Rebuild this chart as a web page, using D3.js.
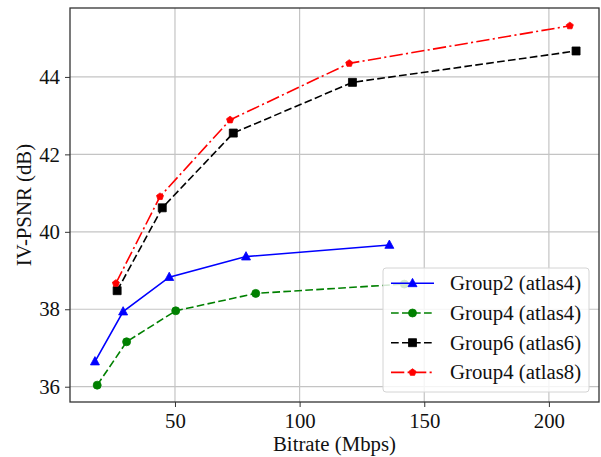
<!DOCTYPE html>
<html>
<head>
<meta charset="utf-8">
<script src="https://cdn.jsdelivr.net/npm/d3@7"></script>
<style>
    body { margin: 0; background: #fff; }
    svg text { font-family: "Times New Roman", "Liberation Serif", "DejaVu Serif", serif; fill: #111; }
</style>
</head>
<body>
<div id="chart"></div>
<script>
'use strict';

// values
const series_names = ['Group2 (atlas4)', 'Group4 (atlas4)', 'Group6 (atlas6)', 'Group4 (atlas8)'];
const g2a4_rate = [17.9, 29.2, 47.7, 78.5, 136.0];
const g2a4_psnr = [36.65, 37.94, 38.83, 39.36, 39.66];
const g4a4_rate = [18.8, 30.6, 50.3, 82.4, 142.0];
const g4a4_psnr = [36.04, 37.16, 37.96, 38.41, 38.65];
const g6a6_rate = [26.8, 44.9, 73.4, 121.2, 210.9];
const g6a6_psnr = [38.48, 40.62, 42.55, 43.86, 44.67];
const g4a8_rate = [26.3, 44.0, 72.1, 119.9, 208.4];
const g4a8_psnr = [38.67, 40.91, 42.89, 44.35, 45.32];
const x_ticks = [50, 100, 150, 200];
const y_ticks = [36, 38, 40, 42, 44];

const FONT = '"Times New Roman", "Liberation Serif", "DejaVu Serif", serif';

function zip(xs, ys) {
    return xs.map((x, i) => ({ x: x, y: ys[i] }));
}

let styles = [
    { color: '#0000ff', dash: null, marker: 'triangle', size: 9 },
    { color: '#008000', dash: '7.7,3.3', marker: 'circle', size: 8 },
    { color: '#000000', dash: '7.7,3.3', marker: 'square', size: 8 },
    { color: '#ff0000', dash: '13.3,3.3,2.1,3.3', marker: 'pentagon', size: 7 }
];

let datasets = [
    zip(g2a4_rate, g2a4_psnr),
    zip(g4a4_rate, g4a4_psnr),
    zip(g6a6_rate, g6a6_psnr),
    zip(g4a8_rate, g4a8_psnr)
];

function marker_path(kind, size) {
    let r = size / 2;
    if (kind === 'triangle') {
        return `M0,${-r * 1.1}L${r},${r * 0.75}L${-r},${r * 0.75}Z`;
    }
    if (kind === 'square') {
        return `M${-r},${-r}h${size}v${size}h${-size}Z`;
    }
    if (kind === 'pentagon') {
        let pts = d3.range(5).map(i => {
            let a = -Math.PI / 2 + i * 2 * Math.PI / 5;
            return [r * 1.05 * Math.cos(a), r * 1.05 * Math.sin(a)];
        });
        return 'M' + pts.join('L') + 'Z';
    }
    return d3.symbol().type(d3.symbolCircle).size(Math.PI * r * r)();
}

function draw_markers(g, data, style, xScale, yScale) {
    g.selectAll('.mk')
        .data(data)
        .enter()
        .append('path')
        .attr('class', 'mk')
        .attr('d', marker_path(style.marker, style.size))
        .attr('transform', (d) => `translate(${xScale(d.x)},${yScale(d.y)})`)
        .attr('fill', style.color)
        .attr('stroke', style.color)
        .attr('stroke-width', 0.8);
}

function linechart(id) {
    let dim = { width: 601, height: 457, left: 70, right: 2, top: 8, bottom: 55 };
    dim.plotwidth = dim.width - dim.left - dim.right;
    dim.plotheight = dim.height - dim.top - dim.bottom;

    let svg = d3.select(id)
        .append('svg')
        .attr('width', dim.width)
        .attr('height', dim.height)
        .attr('font-family', FONT);

    const xScale = d3.scaleLinear()
        .domain([7.89, 220.1])
        .range([dim.left, dim.left + dim.plotwidth]);

    const yScale = d3.scaleLinear()
        .domain([35.605, 45.78])
        .range([dim.top + dim.plotheight, dim.top]);

    // grid
    let grid = svg.append('g');
    grid.selectAll('.vx')
        .data(x_ticks)
        .enter()
        .append('line')
        .attr('x1', (d) => xScale(d)).attr('x2', (d) => xScale(d))
        .attr('y1', dim.top).attr('y2', dim.top + dim.plotheight)
        .attr('stroke', '#c4c4c4').attr('stroke-width', 1.2);
    grid.selectAll('.hy')
        .data(y_ticks)
        .enter()
        .append('line')
        .attr('y1', (d) => yScale(d)).attr('y2', (d) => yScale(d))
        .attr('x1', dim.left).attr('x2', dim.left + dim.plotwidth)
        .attr('stroke', '#c4c4c4').attr('stroke-width', 1.2);

    // axes
    let xAxis = svg.append('g')
        .attr('transform', `translate(0,${dim.top + dim.plotheight})`)
        .call(d3.axisBottom(xScale).tickValues(x_ticks).tickSize(5).tickPadding(6).tickSizeOuter(0));
    let yAxis = svg.append('g')
        .attr('transform', `translate(${dim.left},0)`)
        .call(d3.axisLeft(yScale).tickValues(y_ticks).tickSize(5).tickPadding(5).tickSizeOuter(0));
    [xAxis, yAxis].forEach(a => {
        a.attr('font-family', FONT).attr('font-size', '20.8px');
        a.select('.domain').remove();
        a.selectAll('line').attr('stroke', '#333').attr('stroke-width', 1);
        a.selectAll('text').attr('fill', '#111');
    });

    // series
    let line = d3.line().x((d) => xScale(d.x)).y((d) => yScale(d.y));
    datasets.forEach((data, i) => {
        let st = styles[i];
        let g = svg.append('g');
        g.append('path')
            .datum(data)
            .attr('d', line)
            .attr('fill', 'none')
            .attr('stroke', st.color)
            .attr('stroke-width', 1.6)
            .attr('stroke-dasharray', st.dash);
        draw_markers(g, data, st, xScale, yScale);
    });

    // frame
    svg.append('rect')
        .attr('x', dim.left).attr('y', dim.top)
        .attr('width', dim.plotwidth).attr('height', dim.plotheight)
        .attr('fill', 'none')
        .attr('stroke', '#333')
        .attr('stroke-width', 1.3);

    // axis labels
    svg.append('text')
        .attr('x', dim.left + dim.plotwidth / 2)
        .attr('y', 451)
        .attr('text-anchor', 'middle')
        .attr('font-size', '20.8px')
        .text('Bitrate (Mbps)');
    svg.append('text')
        .attr('transform', `translate(31,${dim.top + dim.plotheight / 2}) rotate(-90)`)
        .attr('text-anchor', 'middle')
        .attr('font-size', '20.8px')
        .text('IV-PSNR (dB)');

    legend(svg);
}

function legend(svg) {
    let box = { x: 383, y: 268, w: 206, h: 124, row: 29.7 };
    let lg = svg.append('g');
    lg.append('rect')
        .attr('x', box.x).attr('y', box.y)
        .attr('width', box.w).attr('height', box.h)
        .attr('rx', 3)
        .attr('fill', 'rgba(255,255,255,0.82)')
        .attr('stroke', '#d4d4d4')
        .attr('stroke-width', 1);

    let rows = lg.selectAll('.row')
        .data(series_names)
        .enter()
        .append('g')
        .attr('class', 'row')
        .attr('transform', (d, i) => `translate(0,${283.3 + i * box.row})`);

    rows.append('line')
        .attr('x1', 391).attr('x2', 434)
        .attr('stroke', (d, i) => styles[i].color)
        .attr('stroke-width', 1.6)
        .attr('stroke-dasharray', (d, i) => styles[i].dash);

    rows.append('path')
        .attr('d', (d, i) => marker_path(styles[i].marker, styles[i].size))
        .attr('transform', 'translate(412.5,0)')
        .attr('fill', (d, i) => styles[i].color)
        .attr('stroke', (d, i) => styles[i].color)
        .attr('stroke-width', 0.8);

    rows.append('text')
        .attr('x', 450)
        .attr('y', 7)
        .attr('font-size', '20.8px')
        .text((d) => d);
}

linechart('#chart');
</script>
</body>
</html>
